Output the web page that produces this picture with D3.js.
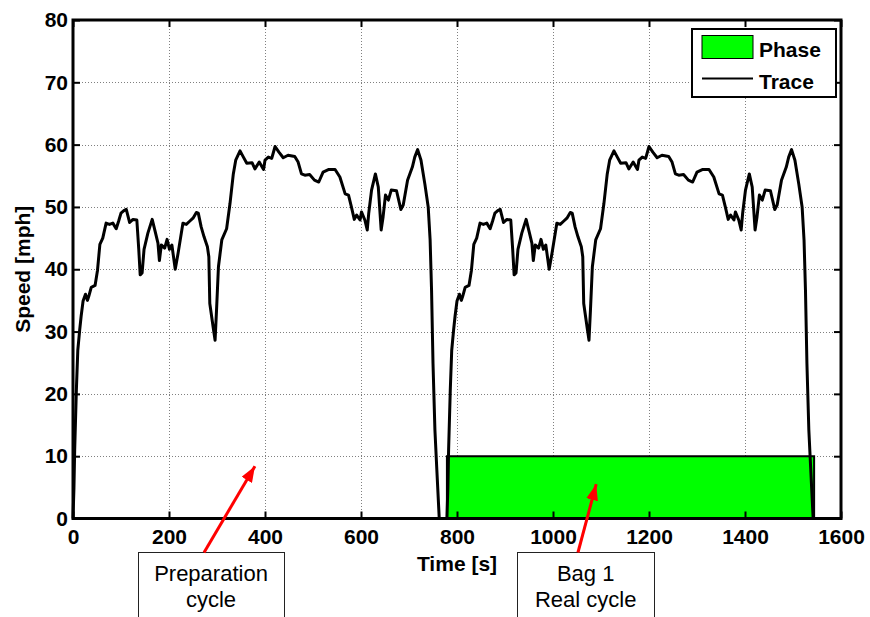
<!DOCTYPE html>
<html>
<head>
<meta charset="utf-8">
<script src="https://cdn.jsdelivr.net/npm/d3@7"></script>
<style>
  body { margin: 0; background: #fff; }
  svg { display: block; font-family: "Liberation Sans", Arial, sans-serif; }
</style>
</head>
<body>
<script>
var width = 870
var height = 617
var margin = { top: 20, right: 29, bottom: 98.5, left: 73 }

// one driving cycle (time s, speed mph)
var cycleTime = [0, 2, 3.5, 7, 10, 14, 17, 21, 26, 30, 33, 38, 46, 51, 56, 62, 69, 76, 83, 90, 95, 100, 106, 111, 118, 125, 133, 137, 140, 144, 148, 156, 165, 172, 177, 180, 184, 191, 196, 201, 206, 213, 219, 229, 236, 243, 250, 257, 261, 267, 273, 280, 283, 285, 292, 296, 299, 303, 310, 320, 327, 334, 339, 348, 355, 362, 373, 379, 388, 397, 400, 407, 414, 421, 429, 438, 448, 462, 469, 476, 483, 493, 503, 512, 521, 532, 546, 556, 567, 574, 580, 586, 591, 598, 601, 608, 613, 616, 622, 630, 636, 642, 646, 651, 657, 663, 674, 683, 688, 697, 707, 712, 718, 725, 733, 740, 744, 747, 750, 754, 758, 763, 765]
var cycleSpeed = [0, 5, 11, 20.6, 27, 30.3, 32.5, 34.9, 36, 35, 35.7, 37.1, 37.4, 39.8, 44, 45, 47.4, 47.2, 47.4, 46.5, 47.7, 49, 49.4, 49.6, 47.5, 48, 47.9, 43.2, 39.1, 39.4, 43.2, 45.8, 48, 45.8, 44.2, 41.4, 43.9, 43.4, 44.8, 43.2, 43.9, 40, 42.6, 47.4, 47.2, 47.7, 48.2, 49.1, 49, 46.8, 45.2, 43.6, 42, 34.5, 30.7, 28.6, 33.4, 40.4, 44.7, 46.5, 50.5, 55.3, 57.5, 59, 58, 57, 57.1, 56.1, 57.2, 56, 57.5, 58, 57.8, 59.7, 58.8, 57.9, 58.3, 58.1, 57.2, 55.3, 55.1, 55.2, 54.3, 54, 55.6, 56, 56, 54.8, 52.1, 51.9, 50, 48, 48.7, 47.9, 49.2, 47.9, 46.3, 48.9, 52.7, 55.3, 53.2, 46.3, 48.4, 51.9, 51.1, 52.7, 52.6, 49.6, 50.3, 54.3, 56.4, 58, 59.2, 57.5, 53.7, 50, 44.7, 36.6, 24.9, 14.2, 7.8, 0, 0]
// the cycle is driven twice: preparation, then bag 1
var cycleStarts = [0, 779]

var phaseTime = [779, 779, 1544, 1544]
var phaseLevel = [0, 10, 10, 0]

var xTicks = [0, 200, 400, 600, 800, 1000, 1200, 1400, 1600]
var yTicks = [0, 10, 20, 30, 40, 50, 60, 70, 80]

var noteLines = [['Preparation', 'cycle'], ['Bag 1', 'Real cycle']]
var noteBoxT = [287.5, 1068]
var noteBoxW = [146, 137]
var noteTailT = [273, 1052]
var noteTipT = [379, 1090]
var noteTipV = [8.4, 5.5]

var trace = []
cycleStarts.forEach(s => {
    cycleTime.forEach((t, i) => trace.push([s + t, cycleSpeed[i]]))
})
var phase = phaseTime.map((t, i) => [t, phaseLevel[i]])

var x = d3.scaleLinear().domain([0, 1600]).range([margin.left, width - margin.right])
var y = d3.scaleLinear().domain([0, 80]).range([height - margin.bottom, margin.top])

var svg = d3.select('body').append('svg')
    .attr('width', width)
    .attr('height', height)

svg.append('rect').attr('width', width).attr('height', height).attr('fill', '#fff')

// grid
var grid = svg.append('g')
    .attr('stroke', '#808080')
    .attr('stroke-width', 1)
    .attr('stroke-dasharray', '1,2')
grid.selectAll('.gx').data(xTicks.slice(1, -1)).join('line')
    .attr('x1', d => Math.round(x(d)) + 0.5).attr('x2', d => Math.round(x(d)) + 0.5)
    .attr('y1', y(80)).attr('y2', y(0))
grid.selectAll('.gy').data(yTicks.slice(1, -1)).join('line')
    .attr('y1', d => Math.round(y(d)) + 0.5).attr('y2', d => Math.round(y(d)) + 0.5)
    .attr('x1', x(0)).attr('x2', x(1600))

// phase patch
svg.append('path')
    .datum(phase)
    .attr('d', d3.line().x(d => x(d[0])).y(d => y(d[1])))
    .attr('fill', '#00ff00')
    .attr('stroke', '#000')
    .attr('stroke-width', 2)

// speed trace
svg.append('path')
    .datum(trace)
    .attr('d', d3.line().x(d => x(d[0])).y(d => y(d[1])))
    .attr('fill', 'none')
    .attr('stroke', '#000')
    .attr('stroke-width', 3)
    .attr('stroke-linejoin', 'round')

// axes, ticks pointing inward
var tickLen = 7
function styleAxis(g) {
    g.select('.domain').remove()
    g.selectAll('.tick line').attr('stroke', '#000').attr('stroke-width', 2)
    g.selectAll('.tick text')
        .attr('fill', '#000')
        .style('font-family', '"Liberation Sans", Arial, sans-serif')
        .style('font-size', '21px')
        .style('font-weight', 'bold')
}

svg.append('g')
    .attr('transform', `translate(0,${y(0)})`)
    .call(d3.axisBottom(x).tickValues(xTicks).tickSizeInner(-tickLen).tickSizeOuter(0).tickPadding(11).tickFormat(d3.format('d')))
    .call(styleAxis)
svg.append('g')
    .attr('transform', `translate(0,${y(80)})`)
    .call(d3.axisTop(x).tickValues(xTicks).tickSizeInner(-tickLen).tickSizeOuter(0).tickFormat(''))
    .call(styleAxis)
svg.append('g')
    .attr('transform', `translate(${x(0)},0)`)
    .call(d3.axisLeft(y).tickValues(yTicks).tickSizeInner(-tickLen).tickSizeOuter(0).tickPadding(5))
    .call(styleAxis)
svg.append('g')
    .attr('transform', `translate(${x(1600)},0)`)
    .call(d3.axisRight(y).tickValues(yTicks).tickSizeInner(-tickLen).tickSizeOuter(0).tickFormat(''))
    .call(styleAxis)

svg.append('rect')
    .attr('x', x(0)).attr('y', y(80))
    .attr('width', x(1600) - x(0)).attr('height', y(0) - y(80))
    .attr('fill', 'none').attr('stroke', '#000').attr('stroke-width', 3)

svg.append('text')
    .attr('x', (x(0) + x(1600)) / 2).attr('y', 571)
    .attr('text-anchor', 'middle')
    .style('font-size', '21px').style('font-weight', 'bold')
    .text('Time [s]')

svg.append('text')
    .attr('transform', `translate(30,${(y(0) + y(80)) / 2}) rotate(-90)`)
    .attr('text-anchor', 'middle')
    .style('font-size', '21px').style('font-weight', 'bold')
    .text('Speed [mph]')

// legend
var legend = svg.append('g')
legend.append('rect')
    .attr('x', 692).attr('y', 29).attr('width', 144).attr('height', 68)
    .attr('fill', '#fff').attr('stroke', '#000').attr('stroke-width', 2)
legend.append('rect')
    .attr('x', 702).attr('y', 35.5).attr('width', 51).attr('height', 23)
    .attr('fill', '#00ff00').attr('stroke', '#000').attr('stroke-width', 1)
legend.append('line')
    .attr('x1', 702).attr('x2', 753).attr('y1', 78.5).attr('y2', 78.5)
    .attr('stroke', '#000').attr('stroke-width', 2)
legend.append('text').attr('x', 759).attr('y', 57)
    .style('font-size', '21px').style('font-weight', 'bold').text('Phase')
legend.append('text').attr('x', 759).attr('y', 88.5)
    .style('font-size', '21px').style('font-weight', 'bold').text('Trace')

// annotations
svg.append('defs').append('marker')
    .attr('id', 'arrowhead')
    .attr('markerUnits', 'userSpaceOnUse')
    .attr('viewBox', '0 0 16 12')
    .attr('refX', 16).attr('refY', 6)
    .attr('markerWidth', 16).attr('markerHeight', 12)
    .attr('orient', 'auto')
    .append('path').attr('d', 'M0,0 L16,6 L0,12 Z').attr('fill', '#ff0000')

var boxTop = 552.5
noteLines.forEach((lines, i) => {
    var cx = x(noteBoxT[i])
    svg.append('rect')
        .attr('x', Math.round(cx - noteBoxW[i] / 2) + 0.5).attr('y', boxTop)
        .attr('width', noteBoxW[i]).attr('height', 90)
        .attr('fill', '#fff').attr('stroke', '#222').attr('stroke-width', 1)
    lines.forEach((s, j) => {
        svg.append('text')
            .attr('x', cx).attr('y', 581 + j * 26)
            .attr('text-anchor', 'middle')
            .style('font-size', '22px')
            .text(s)
    })
    svg.append('line')
        .attr('x1', x(noteTailT[i])).attr('y1', boxTop)
        .attr('x2', x(noteTipT[i])).attr('y2', y(noteTipV[i]))
        .attr('stroke', '#ff0000').attr('stroke-width', 3)
        .attr('marker-end', 'url(#arrowhead)')
})
</script>
</body>
</html>
